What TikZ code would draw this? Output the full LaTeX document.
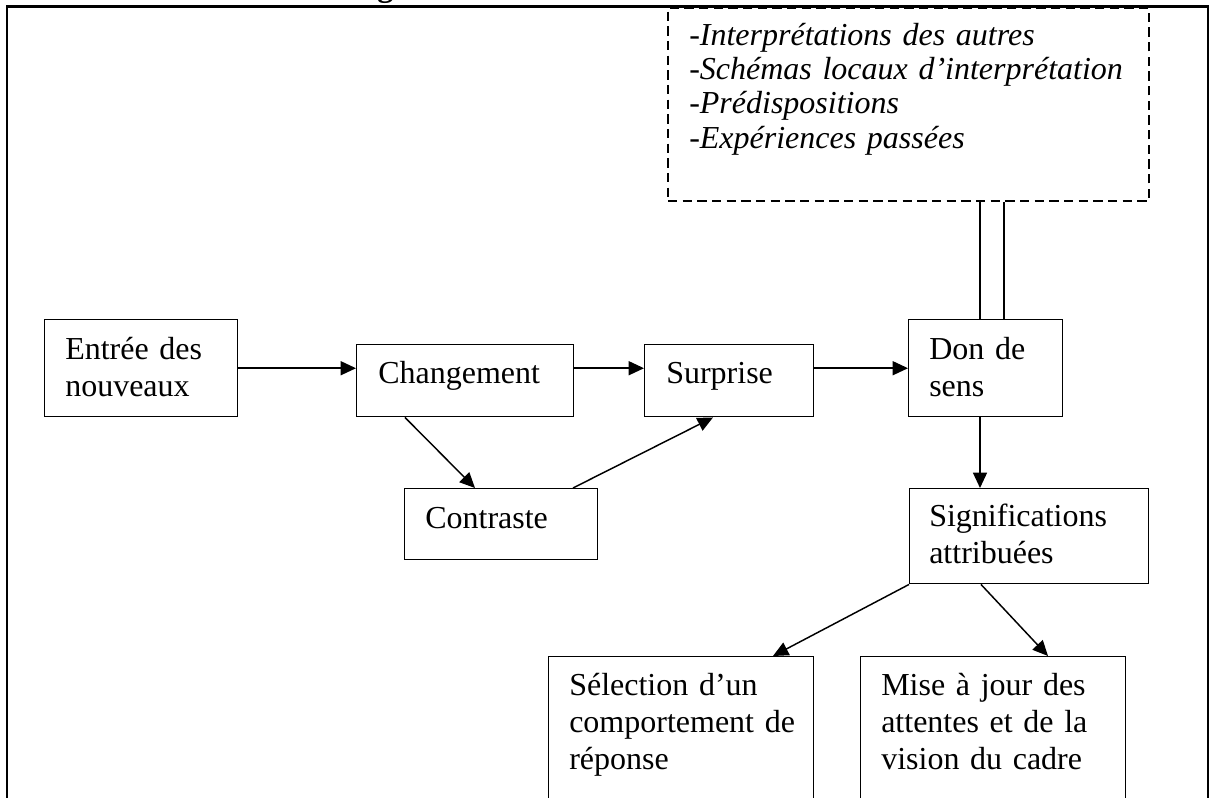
\documentclass[tikz,border=0pt]{standalone}
\usepackage{fontspec}
\setmainfont{Liberation Serif}
\usetikzlibrary{arrows.meta,calc}

\begin{document}
\begin{tikzpicture}[x=0.75pt,y=-0.75pt,
  box/.style={draw, rectangle, line width=1.1pt, inner sep=0pt, anchor=north west},
  ctxbox/.style={draw, rectangle, line width=1.5pt, dash pattern=on 7pt off 4pt, inner sep=0pt, anchor=north west},
  txt/.style={anchor=base west, inner sep=0pt, text width=300*0.75pt, align=left,
              font=\fontsize{24}{27.75}\selectfont},
  ctxtxt/.style={anchor=base west, inner sep=0pt, text width=470*0.75pt, align=left,
              font=\itshape\fontsize{24}{25.6}\selectfont},
  conn/.style={line width=1.1pt},
  arr/.style={conn, -{Triangle[length=11.5pt,width=10.5pt]}}]

\useasboundingbox (0,0) rectangle (1210,798);

% outer frame, open at the bottom
\draw[line width=1.6pt] (7,850) -- (7,6.5) -- (1208,6.5) -- (1208,850);
% descender of the bold caption above the frame
\node[anchor=base west, inner sep=0pt, font=\bfseries\fontsize{24}{24}\selectfont] (capg) at (377,-3.6) {g};

% context box
\node[ctxbox, minimum width=481*0.75pt, minimum height=193*0.75pt] (ctx) at (667,7) {};
\node[ctxtxt] (ctxT) at (689,45.7) {-Interprétations des autres\\-Schémas locaux d’interprétation\\-Prédispositions\\-Expériences passées};

% process boxes
\node[box, minimum width=193*0.75pt, minimum height=97*0.75pt] (entree) at (44,319) {};
\node[txt] (entreeT) at (65,360) {Entrée des\\nouveaux};

\node[box, minimum width=217*0.75pt, minimum height=72*0.75pt] (chang) at (356,344) {};
\node[txt] (changT) at (378,384) {Changement};

\node[box, minimum width=169*0.75pt, minimum height=72*0.75pt] (surp) at (644,344) {};
\node[txt] (surpT) at (666,384) {Surprise};

\node[box, minimum width=154*0.75pt, minimum height=97*0.75pt] (don) at (908,319) {};
\node[txt] (donT) at (929,360) {Don de\\sens};

\node[box, minimum width=193*0.75pt, minimum height=71*0.75pt] (contr) at (404,488) {};
\node[txt] (contrT) at (425,528) {Contraste};

\node[box, minimum width=239*0.75pt, minimum height=95*0.75pt] (sig) at (909,488) {};
\node[txt] (sigT) at (929,526) {Significations\\attribuées};

\node[box, minimum width=265*0.75pt, minimum height=200*0.75pt] (sel) at (548,656) {};
\node[txt] (selT) at (569,695) {Sélection d’un\\comportement de\\réponse};

\node[box, minimum width=265*0.75pt, minimum height=200*0.75pt] (mise) at (860,656) {};
\node[txt] (miseT) at (881,695) {Mise à jour des\\attentes et de la\\vision du cadre};

% connectors
\draw[arr] (entree.east) -- (chang.west |- entree.east);
\draw[arr] (chang.east |- entree.east) -- (surp.west |- entree.east);
\draw[arr] (surp.east |- don.west) -- (don.west);
\draw[arr] ($(chang.south west)+(49,0)$) -- ($(contr.north west)+(71,0)$);
\draw[arr] ($(contr.north west)+(169,0)$) -- ($(surp.south west)+(69,0)$);
\coordinate (donout) at ($(don.south west)+(72,0)$);
\draw[arr] (donout) -- (donout |- sig.north);
\draw[arr] (sig.south west) -- ($(sel.north west)+(225,0)$);
\draw[arr] ($(sig.south west)+(72,0)$) -- ($(mise.north west)+(188,0)$);

% double link from the context box to "Don de sens"
\coordinate (linkA) at ($(don.north west)+(72,0)$);
\coordinate (linkB) at ($(don.north west)+(96,0)$);
\draw[conn] (linkA) -- (linkA |- ctx.south);
\draw[conn] (linkB) -- (linkB |- ctx.south);

\end{tikzpicture}
\end{document}
